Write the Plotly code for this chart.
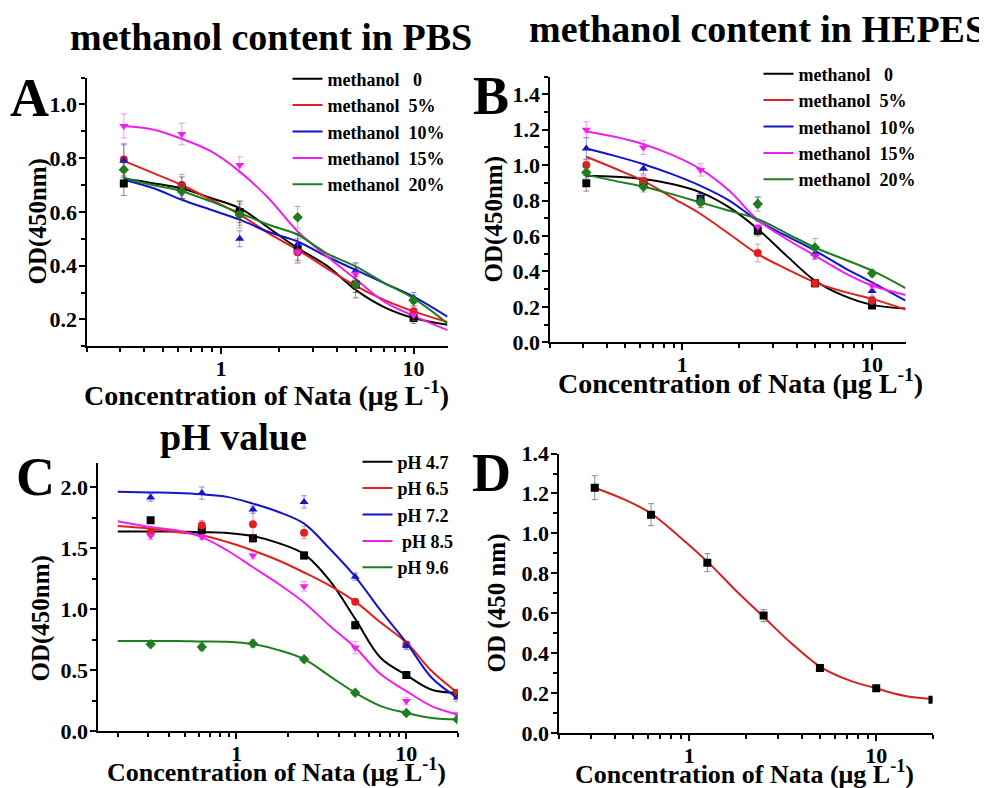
import math
import plotly.graph_objects as go

W, H = 987, 788
FONT = "Liberation Serif"

# ---------------- data ----------------
conc6 = [0.3125, 0.625, 1.25, 2.5, 5, 10]
conc7 = [0.3125, 0.625, 1.25, 2.5, 5, 10, 20]

meoh_names = ["methanol\u00a0\u00a0\u00a00", "methanol\u00a0\u00a05%", "methanol\u00a0\u00a010%",
              "methanol\u00a0\u00a015%", "methanol\u00a0\u00a020%"]
ph_names = ["pH 4.7", "pH 6.5", "pH 7.2", "\u00a0pH 8.5", "pH 9.6"]

colors = ["#000000", "#e0201c", "#1414c8", "#f01ef0", "#1e7d1e"]
symbols = ["square", "circle", "triangle-up", "triangle-down", "diamond"]

# Panel A: methanol content in PBS
A_pts = [
    [0.706, 0.69, 0.60, 0.46, 0.33, 0.205],
    [0.795, 0.70, 0.59, 0.45, 0.33, 0.23],
    [0.79, 0.68, 0.50, 0.48, 0.38, 0.28],
    [0.92, 0.89, 0.775, 0.45, 0.37, 0.215],
    [0.757, 0.677, 0.59, 0.58, 0.33, 0.27],
]
A_err = [
    [0.045, 0.04, 0.04, 0.04, 0.05, 0.02],
    [0.06, 0.04, 0.05, 0.04, 0.03, 0.02],
    [0.06, 0.03, 0.03, 0.04, 0.03, 0.02],
    [0.045, 0.04, 0.03, 0.04, 0.04, 0.02],
    [0.03, 0.03, 0.04, 0.04, 0.03, 0.02],
]
A_fit_x = [0.3125, 0.442, 0.625, 0.884, 1.25, 1.77, 2.5, 3.54, 5, 7.07, 10, 15]
A_fit = [
    [0.724, 0.707, 0.687, 0.652, 0.614, 0.54, 0.465, 0.40, 0.31, 0.245, 0.205, 0.18],
    [0.79, 0.745, 0.70, 0.646, 0.59, 0.52, 0.459, 0.39, 0.325, 0.272, 0.23, 0.19],
    [0.72, 0.689, 0.645, 0.608, 0.571, 0.525, 0.49, 0.434, 0.384, 0.334, 0.285, 0.21],
    [0.92, 0.907, 0.872, 0.826, 0.75, 0.65, 0.527, 0.435, 0.35, 0.265, 0.213, 0.16],
    [0.726, 0.70, 0.677, 0.639, 0.596, 0.552, 0.515, 0.446, 0.397, 0.335, 0.278, 0.185],
]

# Panel B: methanol content in HEPES
B_pts = [
    [0.898, 0.90, 0.81, 0.63, 0.333, 0.207],
    [1.0, 0.91, 0.79, 0.504, 0.333, 0.235],
    [1.094, 0.98, 0.81, 0.79, 0.50, 0.29],
    [1.20, 1.10, 0.973, 0.652, 0.489, 0.32],
    [0.958, 0.878, 0.79, 0.78, 0.535, 0.389],
]
B_err = [
    [0.045, 0.03, 0.03, 0.03, 0.02, 0.01],
    [0.03, 0.03, 0.03, 0.05, 0.02, 0.02],
    [0.06, 0.03, 0.03, 0.03, 0.03, 0.03],
    [0.045, 0.04, 0.035, 0.03, 0.02, 0.02],
    [0.03, 0.03, 0.03, 0.04, 0.05, 0.02],
]
B_fit_x = [0.3125, 0.442, 0.625, 0.884, 1.25, 1.77, 2.5, 3.54, 5, 7.07, 10, 15]
B_fit = [
    [0.94, 0.934, 0.921, 0.893, 0.846, 0.761, 0.639, 0.489, 0.348, 0.263, 0.211, 0.19],
    [1.047, 0.981, 0.911, 0.817, 0.724, 0.611, 0.498, 0.414, 0.338, 0.286, 0.245, 0.185],
    [1.094, 1.052, 1.005, 0.949, 0.883, 0.80, 0.686, 0.60, 0.517, 0.423, 0.338, 0.235],
    [1.19, 1.16, 1.118, 1.058, 0.977, 0.855, 0.69, 0.583, 0.489, 0.395, 0.32, 0.267],
    [0.945, 0.911, 0.878, 0.836, 0.789, 0.742, 0.695, 0.615, 0.535, 0.47, 0.404, 0.306],
]

# Panel C: pH value
C_pts = [
    [1.727, 1.645, 1.58, 1.44, 0.869, 0.46, 0.31],
    [1.63, 1.686, 1.694, 1.626, 1.061, 0.71, 0.315],
    [1.913, 1.95, 1.815, 1.878, 1.266, 0.70, 0.274],
    [1.60, 1.59, 1.44, 1.187, 0.685, 0.247, 0.137],
    [0.713, 0.69, 0.718, 0.59, 0.315, 0.15, 0.096],
]
C_err = [
    [0.02, 0.02, 0.03, 0.03, 0.03, 0.02, 0.02],
    [0.03, 0.04, 0.13, 0.05, 0.02, 0.02, 0.02],
    [0.03, 0.05, 0.03, 0.05, 0.03, 0.03, 0.03],
    [0.03, 0.02, 0.03, 0.04, 0.05, 0.03, 0.02],
    [0.02, 0.03, 0.03, 0.02, 0.02, 0.02, 0.01],
]
C_fit_x = [0.2, 0.3125, 0.442, 0.625, 0.884, 1.25, 1.77, 2.5, 3.54, 5, 7.07, 10, 14.1, 20]
C_fit = [
    [1.636, 1.636, 1.636, 1.63, 1.623, 1.598, 1.54, 1.45, 1.233, 0.92, 0.60, 0.46, 0.34, 0.315],
    [1.68, 1.659, 1.631, 1.604, 1.549, 1.48, 1.398, 1.30, 1.192, 1.061, 0.89, 0.726, 0.493, 0.315],
    [1.96, 1.955, 1.951, 1.94, 1.919, 1.864, 1.795, 1.70, 1.494, 1.266, 0.987, 0.726, 0.438, 0.274],
    [1.72, 1.672, 1.645, 1.59, 1.48, 1.343, 1.206, 1.055, 0.863, 0.685, 0.466, 0.329, 0.206, 0.137],
    [0.74, 0.739, 0.739, 0.735, 0.732, 0.713, 0.664, 0.59, 0.452, 0.315, 0.206, 0.15, 0.109, 0.096],
]

# Panel D: standard curve
D_pts = [1.229, 1.094, 0.854, 0.589, 0.327, 0.225, 0.168]
D_err = [0.06, 0.055, 0.045, 0.03, 0.012, 0.01, 0.01]
D_fit_x = [0.3125, 0.442, 0.625, 0.884, 1.25, 1.77, 2.5, 3.54, 5, 7.07, 10, 14.1, 20]
D_fit = [1.229, 1.173, 1.10, 0.985, 0.859, 0.716, 0.582, 0.448, 0.334, 0.267, 0.225, 0.188, 0.171]

minor_log = [0.2, 0.3, 0.4, 0.5, 0.6, 0.7, 0.8, 0.9, 2, 3, 4, 5, 6, 7, 8, 9, 20]

# ---------------- placement helpers (page pixels -> paper fractions) ----------------
OX, OY, EH = 7.5, 20.6, 761.0


def fx(px):
    return (px - OX) / W


def fy(py):
    return 1 - (py - OY) / EH


# ---------------- figure ----------------
fig = go.Figure()


def hexrgba(c, a):
    c = c.lstrip("#")
    return "rgba(%d,%d,%d,%.2f)" % (int(c[0:2], 16), int(c[2:4], 16), int(c[4:6], 16), a)


def add_panel(xa, ya, fit_x, fits, xs, pts, errs, names, legend):
    for i in range(len(fits)):
        fig.add_trace(go.Scatter(x=fit_x, y=fits[i], mode="lines", name=names[i],
                                 line=dict(color=colors[i], width=2, shape="spline", smoothing=1),
                                 xaxis=xa, yaxis=ya, legend=legend, showlegend=True))
    for i in range(len(pts)):
        fig.add_trace(go.Scatter(x=xs, y=pts[i], mode="markers", showlegend=False,
                                 marker=dict(symbol=symbols[i], size=8, color=colors[i]),
                                 error_y=dict(type="data", array=errs[i], color=hexrgba(colors[i], 0.45),
                                              thickness=1, width=3),
                                 xaxis=xa, yaxis=ya))


add_panel("x", "y", A_fit_x, A_fit, conc6, A_pts, A_err, meoh_names, "legend")
add_panel("x2", "y2", B_fit_x, B_fit, conc6, B_pts, B_err, meoh_names, "legend2")
add_panel("x3", "y3", C_fit_x, C_fit, conc7, C_pts, C_err, ph_names, "legend3")

fig.add_trace(go.Scatter(x=D_fit_x, y=D_fit, mode="lines", showlegend=False,
                         line=dict(color="#d42020", width=2, shape="spline", smoothing=1),
                         xaxis="x4", yaxis="y4"))
fig.add_trace(go.Scatter(x=conc7, y=D_pts, mode="markers", showlegend=False,
                         marker=dict(symbol="square", size=8, color="black"),
                         error_y=dict(type="data", array=D_err, color="rgba(110,110,110,0.8)",
                                      thickness=1, width=3),
                         xaxis="x4", yaxis="y4"))

tickfont = dict(family=FONT, size=22, color="black", weight="bold")


def xax(l, r, lo, hi, anchor):
    return dict(type="log", domain=[fx(l), fx(r)], range=[math.log10(lo), math.log10(hi)], anchor=anchor,
                tickmode="array", tickvals=[1, 10], ticktext=["1", "10"],
                ticks="outside", ticklen=6, tickwidth=2, tickcolor="black",
                showline=True, linewidth=2, linecolor="black", showgrid=False, zeroline=False,
                tickfont=tickfont, ticklabelstandoff=-5,
                minor=dict(tickmode="array", tickvals=minor_log, ticks="outside", ticklen=4,
                           tickwidth=1.5, tickcolor="black", showgrid=False))


def yax(top, bottom, lo, hi, dt, mdt, anchor):
    return dict(domain=[fy(bottom), fy(top)], range=[lo, hi], anchor=anchor, tick0=0, dtick=dt,
                tickformat=".1f", ticks="outside", ticklen=6, tickwidth=2, tickcolor="black",
                showline=True, linewidth=2, linecolor="black", showgrid=False, zeroline=False,
                tickfont=tickfont, ticklabelstandoff=-3,
                minor=dict(dtick=mdt, tick0=0, ticks="outside", ticklen=4, tickwidth=1.5,
                           tickcolor="black", showgrid=False))


legfont = dict(family=FONT, size=18, color="black", weight="bold")


def leg(px, py):
    return dict(x=fx(px), y=fy(py), xanchor="left", yanchor="top", font=legfont,
                bgcolor="rgba(0,0,0,0)", tracegroupgap=0, itemwidth=30)


fig.update_layout(
    width=W, height=H, margin=dict(l=0, r=0, t=0, b=0),
    paper_bgcolor="white", plot_bgcolor="white",
    xaxis=xax(86, 447, 0.2, 15, "y"),
    yaxis=yax(78, 346, 0.1, 1.1, 0.2, 0.1, "x"),
    xaxis2=xax(549, 905, 0.2, 15, "y2"),
    yaxis2=yax(77, 342, 0, 1.5, 0.2, 0.1, "x2"),
    xaxis3=xax(97, 457, 0.152, 20, "y3"),
    yaxis3=yax(462, 730, 0, 2.2, 0.5, 0.25, "x3"),
    xaxis4=xax(558, 932, 0.2, 20, "y4"),
    yaxis4=yax(453, 732, 0, 1.4, 0.2, 0.1, "x4"),
    legend=leg(287, 61),
    legend2=leg(758, 56),
    legend3=leg(357, 443),
)

annots = []


def ann(text, px, py, size, angle=0):
    annots.append(dict(text=text, x=fx(px), y=fy(py), xref="paper", yref="paper",
                       xanchor="center", yanchor="middle", showarrow=False, textangle=angle,
                       font=dict(family=FONT, size=size, color="black", weight="bold")))


ann("methanol content in PBS", 270, 38, 38)
ann("methanol content in HEPES", 757, 30, 38)
ann("pH value", 233, 437, 38)
ann("A", 29, 98, 54)
ann("B", 490, 96, 54)
ann("C", 35, 476, 54)
ann("D", 491, 472, 54)
xt = "Concentration of Nata (\u03bcg L<sup>-1</sup>)"
ann(xt, 266, 393, 28)
ann(xt, 740, 381, 28)
ann(xt, 276, 769, 26)
ann(xt, 744, 771, 26)
ann("OD(450nm)", 37, 222, 25, -90)
ann("OD(450nm)", 493, 220, 25, -90)
ann("OD(450nm)", 40, 618, 25, -90)
ann("OD (450 nm)", 496, 602, 25, -90)
fig.update_layout(annotations=annots)

fig.write_html("out.html")
